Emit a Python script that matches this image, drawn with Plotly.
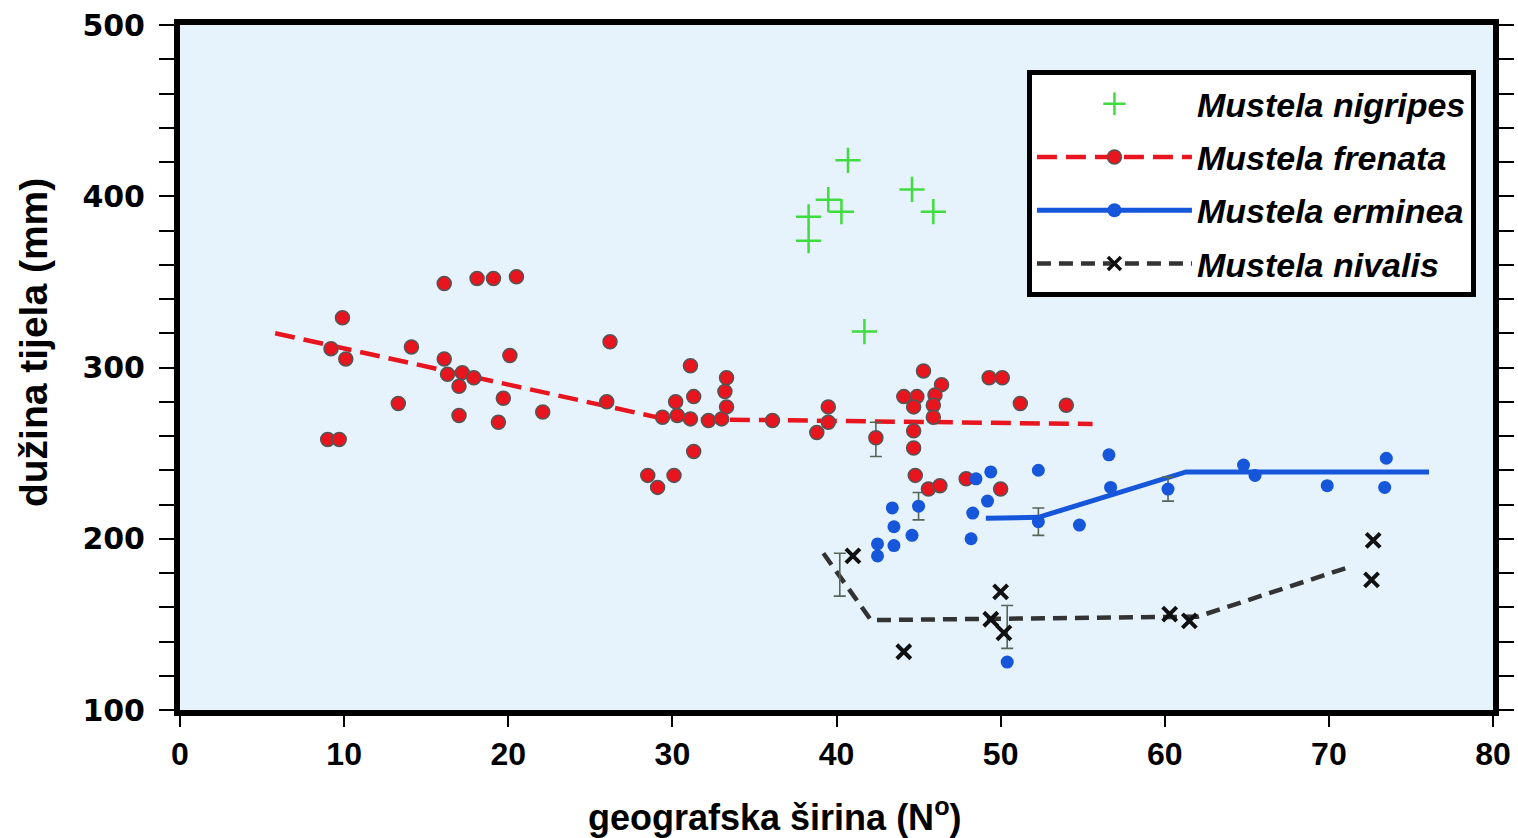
import plotly.graph_objects as go

# ---------------- data ----------------
nigripes_x = [40.7, 39.5, 40.3, 38.3, 38.3, 44.6, 45.9, 41.7]
nigripes_y = [421, 398, 391, 388, 374, 404, 391, 321]

frenata_x = [9.0, 9.7, 9.2, 9.9, 10.1, 13.3, 14.1, 16.1, 16.1, 16.3, 17.2, 17.9, 17.0, 17.0,
             18.1, 19.1, 20.5, 20.1, 19.7, 19.4, 22.1, 26.2, 26.0, 28.5, 29.1, 30.1, 29.4,
             30.3, 30.2, 31.1, 31.3, 31.1, 31.3, 32.2, 33.0, 33.3, 33.2, 33.3, 36.1, 38.8,
             39.5, 39.5, 42.4, 45.3, 44.1, 44.9, 44.7, 46.4, 46.0, 45.9, 45.9, 44.7, 44.7,
             44.8, 45.6, 46.3, 47.9, 49.3, 50.1, 51.2, 54.0, 50.0]
frenata_y = [258, 258, 311, 329, 305, 279, 312, 349, 305, 296, 297, 294, 289, 272,
             352, 352, 353, 307, 282, 268, 274, 315, 280, 237, 230, 237, 271,
             272, 280, 301, 283, 270, 251, 269, 270, 294, 286, 277, 269, 262,
             268, 277, 259, 298, 283, 283, 277, 290, 284, 278, 271, 263, 253,
             237, 229, 231, 235, 294, 294, 279, 278, 229]
frenata_fit_x = [5.8, 29.5, 55.6]
frenata_fit_y = [320, 270, 267]

erminea_x = [56.6, 56.7, 52.3, 49.4, 48.5, 49.2, 48.3, 48.2, 45.0, 43.4, 43.5, 44.6, 43.5,
             42.5, 42.5, 50.4, 52.3, 54.8, 60.2, 64.8, 65.5, 69.9, 73.5, 73.4]
erminea_y = [249, 230, 240, 239, 235, 222, 215, 200, 219, 218, 207, 202, 196,
             197, 190, 128, 210, 208, 229, 243, 237, 231, 247, 230]
erminea_fit_x = [49.1, 52.3, 61.3, 76.1]
erminea_fit_y = [212, 212.5, 239, 239]

nivalis_x = [41.0, 44.1, 50.0, 49.4, 50.2, 60.3, 61.5, 72.7, 72.6]
nivalis_y = [190, 134, 169, 153, 145, 156, 152, 199, 176]
nivalis_fit_x = [39.2, 42.1, 62.0, 71.4]
nivalis_fit_y = [191.5, 152.5, 154.5, 184]

err_x = [42.4, 45.0, 52.3, 60.2, 40.2, 50.4]
err_y = [258, 219, 210, 229, 179, 148.5]
err_v = [10, 8, 8, 7, 12.5, 12.5]

names = ["Mustela nigripes", "Mustela frenata", "Mustela erminea", "Mustela nivalis"]

x_ticks = [0, 10, 20, 30, 40, 50, 60, 70, 80]
y_ticks = [100, 200, 300, 400, 500]

x_title = "geografska širina (N<sup>o</sup>)"
y_title = "dužina tijela (mm)"

RED = "#E8141E"
BLUE = "#1656DA"
GREEN = "#3FDC3F"
BLACK = "#111111"
DARKLINE = "#333333"
ERRC = "#566656"

XTITLE_FONT = dict(family="Liberation Sans, Arial, sans-serif", size=36, color="black", weight="bold")
YTITLE_FONT = dict(family="Liberation Sans, Arial, sans-serif", size=39, color="black", weight="bold")

fig = go.Figure()

# fit lines (carry the legend entries; their vertex markers are hidden on the plot)
hidden = dict(marker=dict(opacity=0))
fig.add_trace(go.Scatter(
    x=frenata_fit_x, y=frenata_fit_y, mode="lines+markers", name=names[1],
    line=dict(color=RED, width=4.5, dash="20px,9px"),
    marker=dict(size=14, color=RED, line=dict(color="#555555", width=1.5)),
    selectedpoints=[], unselected=hidden,
    legendgroup="b", legendrank=2))
fig.add_trace(go.Scatter(
    x=erminea_fit_x, y=erminea_fit_y, mode="lines+markers", name=names[2],
    line=dict(color=BLUE, width=5),
    marker=dict(size=14, color=BLUE),
    selectedpoints=[], unselected=hidden,
    legendgroup="c", legendrank=3))
fig.add_trace(go.Scatter(
    x=nivalis_fit_x, y=nivalis_fit_y, mode="lines+markers", name=names[3],
    line=dict(color=DARKLINE, width=4.5, dash="14px,8px"),
    marker=dict(size=13, color=BLACK, symbol="x-thin", line=dict(color=BLACK, width=3.5)),
    selectedpoints=[], unselected=hidden,
    legendgroup="d", legendrank=4))

# error bars
fig.add_trace(go.Scatter(
    x=err_x, y=err_y, mode="markers", showlegend=False, hoverinfo="skip",
    marker=dict(size=1, opacity=0),
    error_y=dict(type="data", array=err_v, color=ERRC, thickness=1.6, width=6)))

# points
fig.add_trace(go.Scatter(
    x=frenata_x, y=frenata_y, mode="markers", showlegend=False, name=names[1],
    marker=dict(size=14, color=RED, line=dict(color="#555555", width=1.5))))
fig.add_trace(go.Scatter(
    x=erminea_x, y=erminea_y, mode="markers", showlegend=False, name=names[2],
    marker=dict(size=13, color=BLUE)))
fig.add_trace(go.Scatter(
    x=nivalis_x, y=nivalis_y, mode="markers", showlegend=False, name=names[3],
    marker=dict(size=14, color=BLACK, symbol="x-thin", line=dict(color=BLACK, width=4))))
fig.add_trace(go.Scatter(
    x=nigripes_x, y=nigripes_y, mode="markers", name=names[0],
    marker=dict(size=18, color=GREEN, symbol="cross-thin", line=dict(color=GREEN, width=2.5)),
    legendgroup="a", legendrank=1))

fig.update_layout(
    width=1518, height=838,
    margin=dict(l=180, r=25, t=25, b=128, autoexpand=False),
    paper_bgcolor="white",
    plot_bgcolor="#E6F3FC",
    showlegend=True,
    legend=dict(
        x=0.987, xanchor="right", y=0.934, yanchor="top",
        bgcolor="white", bordercolor="black", borderwidth=5,
        font=dict(family="Liberation Sans, Arial, sans-serif", size=34, color="black",
                  weight="bold", style="italic"),
        itemwidth=155,
        tracegroupgap=6,
    ),
    xaxis=dict(
        range=[0, 80], tickvals=x_ticks, ticktext=[str(v) for v in x_ticks],
        ticks="outside", ticklen=11, tickwidth=2, tickcolor="black",
        showline=True, linewidth=6, linecolor="black", mirror=True,
        showgrid=False, zeroline=False, automargin=False,
        tickfont=dict(family="Liberation Sans, Arial, sans-serif", size=32,
                      color="black", weight="bold"),
    ),
    yaxis=dict(
        range=[100, 500], tickvals=y_ticks, ticktext=[str(v) for v in y_ticks],
        ticks="outside", ticklen=15, tickwidth=2, tickcolor="black",
        minor=dict(dtick=20, ticks="outside", ticklen=15, tickwidth=2, tickcolor="black",
                   showgrid=False),
        showline=True, linewidth=6, linecolor="black", mirror="ticks",
        showgrid=False, zeroline=False, automargin=False,
        tickfont=dict(family="DejaVu Sans, sans-serif", size=30, color="black", weight="bold"),
        ticklabelstandoff=8,
    ),
    annotations=[
        dict(text=x_title, xref="paper", yref="paper", x=0.453, y=-0.153,
             xanchor="center", yanchor="middle", showarrow=False, font=XTITLE_FONT),
        dict(text=y_title, xref="paper", yref="paper", x=-0.112, y=0.537,
             xanchor="center", yanchor="middle", textangle=-90, showarrow=False, font=YTITLE_FONT),
    ],
)

fig.write_html("out.html", config={"displayModeBar": False},
               post_script="document.body.style.margin='0';")
